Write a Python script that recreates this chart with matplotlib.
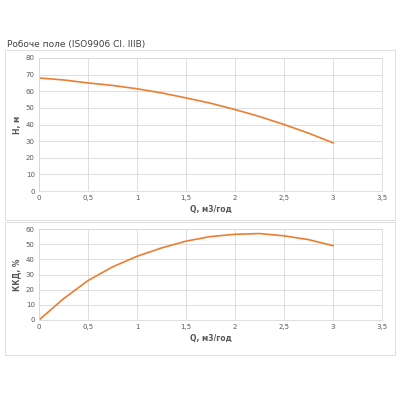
import matplotlib
matplotlib.use("Agg")
import matplotlib.pyplot as plt
from matplotlib.patches import Rectangle
from matplotlib.ticker import FuncFormatter

q = [0, 0.25, 0.5, 0.75, 1, 1.25, 1.5, 1.75, 2, 2.25, 2.5, 2.75, 3]
head = [68, 66.8, 65, 63.5, 61.5, 59, 56, 52.8, 49, 44.8, 40, 34.8, 29]
eff = [0, 14, 26, 35, 42, 47.5, 52, 55, 56.5, 57, 55.5, 53, 49]
title = "Робоче поле (ISO9906 Cl. IIIB)"
xlabel = "Q, м3/год"
ylabel_top = "H, м"
ylabel_bot = "ККД, %"

color = "#ED7D31"
tc = "#595959"
fig = plt.figure(figsize=(4, 4), dpi=100)
for (x0, y0, w, h) in [(5/400, 180/400, 390/400, 170/400), (5/400, 45/400, 390/400, 133/400)]:
    fig.add_artist(Rectangle((x0, y0), w, h, transform=fig.transFigure, fill=False, edgecolor="#d9d9d9", lw=0.6))
fig.text(7/400, 1-45/400, title, fontsize=6.5, color="#404040", va="center")

fmt = FuncFormatter(lambda v, p: (f"{v:g}").replace(".", ","))
ax1 = fig.add_axes([39/400, 209/400, 343/400, 133/400])
ax2 = fig.add_axes([39/400, 80/400, 343/400, 91/400])
for ax, y, ymax, lab in [(ax1, head, 80, ylabel_top), (ax2, eff, 60, ylabel_bot)]:
    ax.plot(q, y, color=color, lw=1.2)
    ax.set_xlim(0, 3.5)
    ax.set_ylim(0, ymax)
    ax.set_xticks([0, 0.5, 1, 1.5, 2, 2.5, 3, 3.5])
    ax.set_yticks(range(0, ymax + 1, 10))
    ax.xaxis.set_major_formatter(fmt)
    ax.grid(True, color="#d9d9d9", lw=0.6)
    ax.set_axisbelow(True)
    for s in ax.spines.values():
        s.set_color("#d9d9d9"); s.set_linewidth(0.6)
    ax.tick_params(length=0, labelsize=5, colors=tc, pad=3)
    ax.set_xlabel(xlabel, fontsize=5.5, color=tc, fontweight="bold", labelpad=3)
    ax.set_ylabel(lab, fontsize=5.5, color=tc, fontweight="bold", labelpad=3)
fig.savefig("out.png", dpi=100, facecolor="white")
